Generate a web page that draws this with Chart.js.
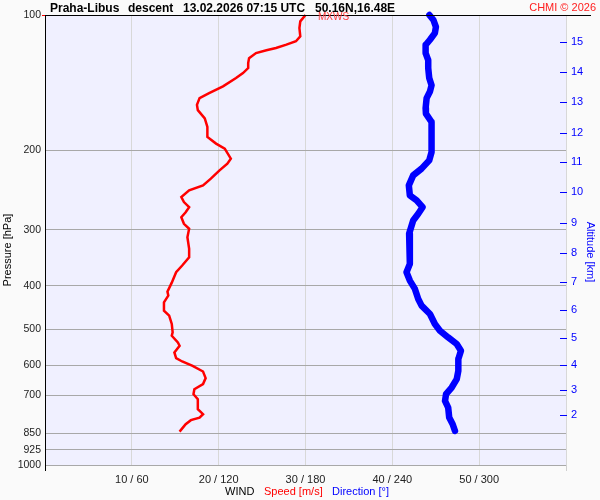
<!DOCTYPE html>
<html>
<head>
<meta charset="utf-8">
<script src="https://cdn.jsdelivr.net/npm/chart.js@4.4.1/dist/chart.umd.min.js"></script>
<style>
    body { margin: 0; background: #fafafa; }
    #wrap { width: 600px; height: 500px; }
</style>
</head>
<body>
<div id="wrap"><canvas id="sounding"></canvas></div>
<script>
// wind speed profile (m/s) against pressure (hPa)
const speedPressure = [
    100, 103.3, 106.9, 111.5, 114.4, 116.4, 118.4, 119.8, 121.5, 124.7,
    127.9, 131.2, 134.6, 138.1, 144.1, 149.2, 153.0, 158.4, 162.7, 169.8,
    177.3, 186.6, 193.1, 198.1, 208.5, 213.9, 221.4, 231.0, 239.1, 245.3,
    253.9, 260.5, 267.3, 274.3, 281.4, 291.1, 298.6, 311.7, 330.8, 345.4,
    360.4, 373.0, 393.3, 411.8, 420.3, 435.0, 453.9, 465.7, 486.0, 507.4,
    516.1, 534.1, 543.3, 562.3, 578.7, 588.8, 601.9, 619.8, 641.1, 661.1,
    678.5, 696.1, 714.2, 751.6, 771.0, 784.6, 795.0, 811.7, 843.0
];
const speedValues = [
    30.0, 29.4, 29.3, 29.4, 28.9, 27.8, 26.6, 25.5, 24.3, 23.5,
    23.4, 23.4, 22.8, 22.0, 20.5, 18.9, 17.8, 17.5, 17.6, 18.4,
    18.7, 18.7, 19.7, 20.7, 21.4, 21.0, 20.1, 19.1, 18.2, 16.6,
    15.7, 16.0, 16.6, 16.2, 15.7, 16.0, 16.6, 16.4, 16.6, 16.6,
    15.8, 15.1, 14.6, 14.1, 14.2, 13.7, 13.7, 14.3, 14.6, 14.7,
    14.6, 15.3, 15.5, 14.9, 15.1, 15.8, 17.0, 18.2, 18.5, 18.2,
    17.2, 17.1, 17.6, 17.6, 18.2, 17.8, 16.8, 16.2, 15.5
];

// wind direction (deg) against pressure (hPa), on the 0-360 = 0-60 axis
const dirPressure = [
    100, 102.6, 106.3, 109.7, 113.5, 116.6, 121.5, 126.0, 131.2, 138.1,
    143.2, 147.9, 153.0, 161.1, 165.6, 172.9, 201.6, 210.4, 219.5, 227.2,
    239.1, 251.7, 258.2, 267.3, 276.4, 286.2, 306.3, 333.8, 357.3, 373.0,
    389.2, 406.2, 427.6, 442.4, 461.7, 486.0, 503.0, 520.6, 538.5, 557.4,
    581.7, 617.5, 644.4, 672.8, 696.1, 720.4, 745.4, 784.6, 811.7, 840.1
];
const dirValues = [
    265.6, 268.4, 270.1, 269.4, 266.0, 263.0, 263.0, 264.8, 264.8, 265.5,
    267.1, 266.0, 263.7, 263.0, 263.2, 267.1, 267.1, 265.5, 260.2, 254.4,
    251.4, 252.1, 256.8, 260.9, 257.9, 254.4, 251.6, 252.1, 252.1, 249.8,
    252.1, 255.6, 257.9, 260.2, 266.0, 269.4, 272.9, 278.6, 284.5, 287.4,
    285.6, 285.6, 284.5, 281.0, 277.1, 276.4, 278.6, 279.3, 281.7, 283.3
];

// axes
const pressureTicks = [100, 200, 300, 400, 500, 600, 700, 850, 925, 1000];
const speedTicks = [0, 10, 20, 30, 40, 50, 60];
const speedTickLabels = ['', '10 / 60', '20 / 120', '30 / 180', '40 / 240', '50 / 300', ''];
const altitudeKm = [2, 3, 4, 5, 6, 7, 8, 9, 10, 11, 12, 13, 14, 15];
const altitudePressure = [775, 682, 600, 522, 452, 392, 338, 290, 247, 212, 182.5, 156, 134, 115];

const FONT = "'Liberation Sans', Arial, sans-serif";
const CLEAR = 'rgba(0,0,0,0)';

const frame = {
    id: 'frame',
    beforeDraw(chart) {
        const { ctx, chartArea: a } = chart;
        ctx.save();
        ctx.fillStyle = '#f0f0ff';
        ctx.fillRect(a.left, a.top, a.right - a.left, a.bottom - a.top);
        ctx.restore();
    },
    afterDraw(chart) {
        const { ctx, chartArea: a } = chart;
        ctx.save();
        // top line
        ctx.strokeStyle = '#000';
        ctx.lineWidth = 1;
        ctx.beginPath();
        ctx.moveTo(a.left, a.top + 0.5);
        ctx.lineTo(591, a.top + 0.5);
        ctx.stroke();

        // altitude tick marks inside the plot
        const alt = chart.scales.yAlt;
        ctx.strokeStyle = '#0000ff';
        alt.ticks.forEach(t => {
            const y = Math.round(alt.getPixelForValue(t.value)) + 0.5;
            ctx.beginPath();
            ctx.moveTo(a.right - 6, y);
            ctx.lineTo(a.right + 1, y);
            ctx.stroke();
        });

        // header
        ctx.fillStyle = '#000';
        ctx.font = 'bold 12px ' + FONT;
        ctx.textBaseline = 'alphabetic';
        ctx.fillText('Praha-Libus', 50, 12);
        ctx.fillText('descent', 128, 12);
        ctx.fillText('13.02.2026 07:15 UTC', 183, 12);
        ctx.fillText('50.16N,16.48E', 315, 12);

        ctx.fillStyle = '#ff2020';
        ctx.font = '11px ' + FONT;
        ctx.textAlign = 'right';
        ctx.fillText('CHMI \u00a9 2026', 596, 11);
        ctx.textAlign = 'left';

        ctx.fillStyle = '#ff4040';
        ctx.font = '10px ' + FONT;
        ctx.fillText('MXWS', 318, 20);

        // bottom legend
        ctx.font = '11px ' + FONT;
        ctx.fillStyle = '#000';
        ctx.fillText('WIND', 225, 495);
        ctx.fillStyle = '#ff0000';
        ctx.fillText('Speed [m/s]', 264, 495);
        ctx.fillStyle = '#0000ff';
        ctx.fillText('Direction [\u00b0]', 332, 495);

        // axis titles
        ctx.textAlign = 'center';
        ctx.textBaseline = 'middle';
        ctx.save();
        ctx.translate(8, 250);
        ctx.rotate(-Math.PI / 2);
        ctx.fillStyle = '#000';
        ctx.fillText('Pressure [hPa]', 0, 0);
        ctx.restore();
        ctx.save();
        ctx.translate(590, 252);
        ctx.rotate(Math.PI / 2);
        ctx.fillStyle = '#0000ff';
        ctx.fillText('Altitude [km]', 0, 0);
        ctx.restore();
        ctx.restore();
    }
};

const chart = new Chart(document.getElementById('sounding'), {
    type: 'scatter',
    data: {
        datasets: [{
            label: 'Speed',
            data: speedPressure.map((p, i) => ({ x: speedValues[i], y: p })),
            showLine: true,
            borderColor: '#ff0000',
            borderWidth: 2.5,
            pointRadius: 0,
            clip: 4,
            xAxisID: 'x',
            yAxisID: 'y'
        }, {
            label: 'Direction',
            // direction is drawn on the speed axis: 360 deg = 60
            data: dirPressure.map((p, i) => ({ x: dirValues[i] / 6, y: p })),
            showLine: true,
            borderColor: '#0000ff',
            borderWidth: 6.5,
            borderCapStyle: 'round',
            borderJoinStyle: 'round',
            pointRadius: 0,
            clip: 4,
            xAxisID: 'x',
            yAxisID: 'y'
        }]
    },
    options: {
        responsive: true,
        maintainAspectRatio: false,
        animation: false,
        events: [],
        layout: { padding: { top: 15, left: 0, right: 0, bottom: 0 } },
        plugins: { legend: { display: false }, tooltip: { enabled: false } },
        scales: {
            x: {
                type: 'linear',
                min: 0,
                max: 60,
                afterBuildTicks: s => { s.ticks = speedTicks.map(v => ({ value: v })); },
                afterFit: s => { s.height = 35; },
                border: { display: false },
                grid: {
                    color: c => c.tick && c.tick.value === 0 ? CLEAR : '#d8d8d8',
                    tickColor: c => {
                        if (!c.tick) return CLEAR;
                        if (c.tick.value === 0) return '#000';
                        if (c.tick.value === 60) return '#d0d0d0';
                        return CLEAR;
                    },
                    tickLength: 6
                },
                ticks: {
                    color: '#222',
                    font: { family: FONT, size: 11 },
                    padding: 2,
                    maxRotation: 0,
                    autoSkip: false,
                    callback: (v, i) => speedTickLabels[i]
                }
            },
            y: {
                type: 'logarithmic',
                position: 'left',
                reverse: true,
                min: 100,
                max: 1000,
                afterBuildTicks: s => { s.ticks = pressureTicks.map(v => ({ value: v })); },
                afterFit: s => { s.width = 45; },
                border: { display: true, color: '#000', width: 1 },
                grid: {
                    color: c => c.tick && c.tick.value === 100 ? CLEAR : '#a8a8a8',
                    tickColor: c => c.tick && c.tick.value === 100 ? '#ff0000' : CLEAR,
                    tickLength: 3
                },
                ticks: {
                    color: '#222',
                    font: { family: FONT, size: 10.5 },
                    padding: 1,
                    autoSkip: false,
                    callback: v => String(v)
                }
            },
            yAlt: {
                type: 'logarithmic',
                position: 'right',
                reverse: true,
                min: 100,
                max: 1000,
                afterBuildTicks: s => { s.ticks = altitudePressure.map(v => ({ value: v })); },
                afterFit: s => { s.width = 34; },
                border: { display: false },
                grid: { display: false, drawTicks: false },
                ticks: {
                    color: '#0000ff',
                    font: { family: FONT, size: 11 },
                    padding: 5,
                    autoSkip: false,
                    callback: (v, i) => String(altitudeKm[i])
                }
            }
        }
    },
    plugins: [frame]
});
</script>
</body>
</html>
